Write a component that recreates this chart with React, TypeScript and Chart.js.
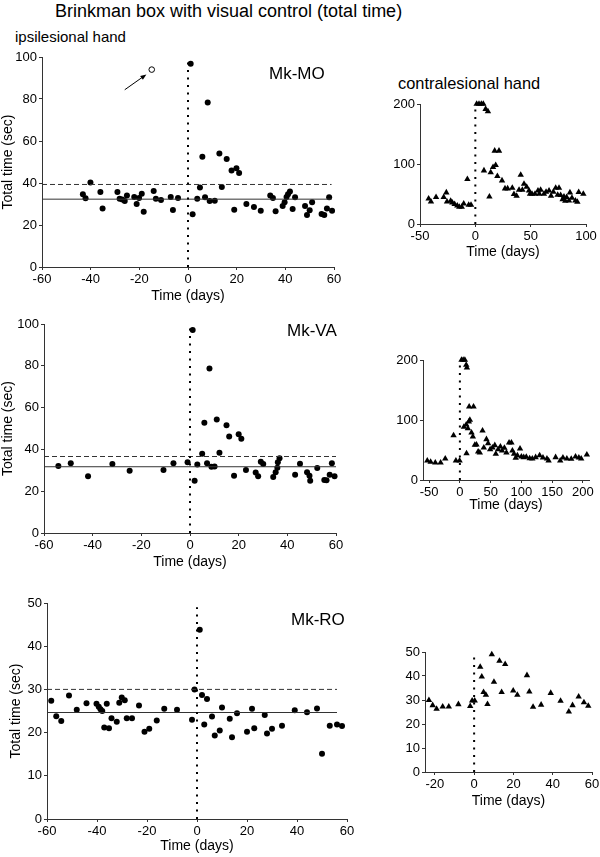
import React, { useEffect, useRef } from "react";
import { Chart, registerables } from "chart.js";

Chart.register(...registerables);

type Pt = [number, number];

const FONT = "'Liberation Sans', Arial, Helvetica, sans-serif";

// ---------- texts ----------
const figureTitle = "Brinkman box with visual control (total time)";
const ipsiLabel = "ipsilesional hand";
const contraLabel = "contralesional hand";
const yTitleText = "Total time (sec)";
const xTitleText = "Time (days)";
const monkeyNames = ["Mk-MO", "Mk-VA", "Mk-RO"];

// ---------- Mk-MO ----------
const moIpsi: Pt[] = [
  [-43.2, 34.6], [-42.1, 32.7], [-40.1, 40.2], [-36.0, 35.7], [-35.1, 27.8], [-29.0, 35.7],
  [-28.1, 32.5], [-27.0, 32.1], [-26.0, 31.4], [-25.1, 34.1], [-22.1, 33.3], [-21.1, 30.0],
  [-20.1, 32.9], [-19.0, 34.9], [-18.2, 26.3], [-14.1, 36.2], [-13.2, 32.5], [-11.1, 31.9],
  [-7.1, 33.3], [-6.2, 27.1], [-4.1, 32.9],
  [1.1, 96.8], [1.9, 25.1], [3.8, 32.5], [4.9, 37.8], [5.9, 52.5], [7.0, 33.2], [8.1, 78.3],
  [8.9, 31.4], [11.0, 31.6], [12.9, 54.0], [13.9, 38.1], [15.9, 51.4], [17.9, 45.9], [19.0, 27.3],
  [19.9, 47.0], [21.0, 44.8], [24.0, 30.0], [27.1, 28.6], [29.9, 26.8], [33.8, 34.0], [34.9, 32.9],
  [36.0, 26.5], [38.9, 29.0], [39.7, 30.8], [40.5, 33.3], [41.1, 34.6], [41.9, 35.9], [43.0, 27.6],
  [44.0, 33.2], [48.1, 29.0], [48.9, 24.8], [50.0, 27.0], [51.0, 30.8], [54.9, 25.2], [56.0, 24.8],
  [57.1, 27.8], [58.0, 33.2], [59.2, 26.8],
];
const moIpsiMean: Pt[] = [[-60, 32.3], [59, 32.3]];
const moIpsiUpper: Pt[] = [[-60, 39.3], [59, 39.3]];
const moOpenPoint: Pt[] = [[-14.9, 94]];
const moArrow: Pt[] = [[-26, 84.4], [-17.1, 91.7]];

const moContra: Pt[] = [
  [-42.2, 42.3], [-40.1, 37.3], [-35.5, 44.6], [-28.6, 44.6], [-26.2, 52.4], [-25.6, 37.3],
  [-22.3, 38.4], [-20.8, 35.7], [-18.7, 32.9], [-16.3, 30.6], [-14.5, 28.4], [-12.3, 28.4],
  [-10.5, 34.0], [-7.2, 74.6], [-6.0, 31.8], [-3.9, 31.8],
  [1.2, 200], [3.3, 200], [5.4, 200], [7.2, 200], [9.3, 191.6], [11.4, 187.7], [7.8, 89.1],
  [12.7, 45.7], [13.9, 85.8], [16.0, 94.7], [18.4, 98.1], [17.5, 122.0], [21.4, 122.0],
  [19.9, 79.7], [24.1, 72.4], [26.8, 59.1], [29.2, 59.1], [33.4, 60.2], [34.9, 49.6], [37.3, 46.8],
  [39.5, 56.8], [41.0, 81.9], [42.5, 56.8], [44.0, 66.9], [46.4, 61.8], [48.5, 55.7], [49.4, 50.1],
  [51.2, 50.1], [53.9, 50.1], [56.6, 55.7], [57.8, 50.1], [59.0, 56.8], [62.0, 50.1], [63.9, 53.5],
  [66.6, 55.7], [68.4, 46.8], [70.5, 53.5], [72.6, 60.2], [75.6, 60.2], [74.4, 48.5], [77.1, 47.9],
  [78.9, 41.2], [80.1, 45.7], [81.3, 38.4], [82.5, 44.6], [84.6, 39.0], [85.5, 52.4], [87.3, 43.5],
  [90.4, 39.0], [92.2, 36.8], [93.4, 52.9], [97.6, 50.1],
];

// ---------- Mk-VA ----------
const vaIpsi: Pt[] = [
  [-54.1, 32.0], [-49.0, 33.4], [-41.9, 27.2], [-31.9, 33.0], [-24.8, 29.8], [-10.9, 30.1],
  [-6.8, 33.4], [-1.0, 33.8],
  [1.1, 97.1], [1.9, 25.0], [3.0, 32.8], [5.0, 37.9], [5.9, 52.7], [7.0, 33.4], [8.0, 78.7],
  [8.8, 31.7], [10.1, 31.8], [11.0, 54.3], [12.1, 38.4], [15.0, 51.6], [16.1, 46.2], [18.1, 27.4],
  [20.0, 47.3], [21.1, 45.1], [23.0, 30.1], [27.0, 29.0], [28.0, 27.1], [29.1, 34.1], [30.1, 33.0],
  [34.2, 26.8], [35.2, 29.1], [35.9, 31.2], [36.1, 33.8], [36.8, 35.8], [43.2, 27.9], [45.2, 33.1],
  [48.1, 29.1], [49.1, 27.4], [49.4, 25.0], [52.3, 31.1], [55.2, 25.3], [56.1, 25.2], [57.4, 27.9],
  [58.3, 33.4], [59.4, 27.1],
];
const vaIpsiMean: Pt[] = [[-60, 31.7], [60, 31.7]];
const vaIpsiUpper: Pt[] = [[-60, 36.6], [60, 36.6]];

const vaContra: Pt[] = [
  [-53, 32.2], [-47.6, 30], [-40, 28.9], [-31.4, 28.9], [-23.8, 35.6], [-10.3, 74.4], [-6.5, 32.2],
  [-0.5, 32.2], [2.7, 200], [5.4, 200], [8.1, 200], [10.3, 191.7], [11.4, 187.2], [6.5, 88.3],
  [10.3, 92.2], [13, 86.1], [10.8, 44.4], [14.6, 97.2], [16.2, 100], [15.1, 122.2], [22.2, 122.2],
  [18.9, 78.9], [21.1, 72.2], [24.3, 58.3], [27, 58.9], [29.7, 47.2], [32.4, 45.6], [36.8, 82.2],
  [38.9, 53.9], [43.2, 67.8], [45.9, 61.1], [49.2, 51.1], [53, 53.9], [56.8, 57.8], [58.4, 43.3],
  [62.2, 51.1], [65.9, 55.6], [68.6, 48.9], [72.4, 53.3], [75.7, 45.6], [80, 62.2], [83.8, 62.2],
  [85.4, 48.9], [88.1, 43.3], [90.8, 36.7], [93.5, 41.1], [97.8, 52.2], [100, 38.9], [103.8, 37.8],
  [108, 38.3], [113.5, 36.1], [117.8, 35.6], [123.2, 37.8], [129.7, 41.1], [135.1, 37.2],
  [141.6, 35.6], [144.3, 32.2], [155.7, 37.8], [163.2, 32.2], [167.6, 37.2], [174, 35.6],
  [181.1, 35], [188.1, 38.9], [193.5, 37.2], [197.3, 35.6], [206.5, 42.2],
];

// ---------- Mk-RO ----------
const roIpsi: Pt[] = [
  [-58.3, 27.4], [-56.3, 23.8], [-54.3, 22.7], [-51.2, 28.6], [-48.1, 25.3], [-44.2, 26.8],
  [-40.2, 26.7], [-39.3, 26.0], [-38.6, 25.4], [-37.9, 25.0], [-37.1, 21.2], [-36.1, 26.7],
  [-35.2, 21.0], [-34.2, 23.3], [-32.1, 22.5], [-31.1, 26.9], [-30.1, 28.1], [-28.9, 27.5],
  [-28.1, 23.3], [-26.0, 23.3], [-23.2, 26.3], [-21.0, 20.2], [-19.1, 20.9], [-16.1, 22.8],
  [-13.1, 25.5], [-8.0, 25.3], [-2.0, 23.0], [-1.0, 30.0],
  [1.1, 43.8], [2.0, 28.7], [2.9, 21.9], [4.0, 27.8], [6.0, 23.7], [7.1, 19.3], [9.1, 20.5],
  [10.0, 25.8], [13.1, 23.2], [14.0, 18.9], [16.0, 24.5], [20.0, 20.2], [22.0, 25.5], [22.9, 21.0],
  [27.1, 24.1], [28.0, 19.8], [30.0, 20.9], [34.0, 21.6], [39.1, 25.2], [44.0, 24.7], [48.0, 25.6],
  [50.0, 15.1], [53.1, 21.6], [56.0, 21.9], [58.0, 21.5],
];
const roIpsiMean: Pt[] = [[-60, 24.65], [56, 24.65]];
const roIpsiUpper: Pt[] = [[-60, 30.0], [56, 30.0]];

const roContra: Pt[] = [
  [-23, 29.9], [-21.1, 27.8], [-19.1, 26.3], [-16, 27.2], [-12.9, 27.2], [-8, 28.2], [-2, 27.4],
  [-1, 29.7], [0.3, 29.7], [3.1, 43.8], [3.9, 39.7], [4.8, 33.3], [6, 32.1], [6.8, 28.3], [9, 49],
  [10.1, 37.5], [12.9, 46.3], [14, 33.3], [15.8, 44.9], [19.9, 33.9], [22, 32.1], [26.9, 40.3],
  [28.1, 33.5], [30, 27.1], [34.1, 28], [39, 32.9], [44, 29.6], [48.2, 25.1], [50.1, 27.8],
  [53.2, 31.4], [55.9, 29], [58.1, 27.5],
];

// ---------- onset lines (day 0) ----------
const onset100: Pt[] = [[0, 0], [0, 100]];
const onset200: Pt[] = [[0, 0], [0, 200]];
const onset50: Pt[] = [[0, 0], [0, 49]];

// ---------- ticks ----------
const ticksDays60 = [-60, -40, -20, 0, 20, 40, 60];
const ticksDaysMO = [-50, 0, 50, 100];
const ticksDaysVA = [-50, 0, 50, 100, 150, 200];
const ticksDaysRO = [-20, 0, 20, 40, 60];
const ticksTime100 = [0, 20, 40, 60, 80, 100];
const ticksTime200 = [0, 100, 200];
const ticksTime50 = [0, 10, 20, 30, 40, 50];

interface PanelCfg {
  box: { left: number; top: number; width: number; height: number };
  pad: { left: number; top: number; right: number; bottom: number };
  yWidth: number;
  xHeight: number;
  xMin: number; xMax: number; xTicks: number[];
  yMin: number; yMax: number; yTicks: number[];
  showYTitle: boolean;
  points: Pt[];
  marker: "circle" | "triangle";
  radius: number;
  mean?: Pt[];
  upper?: Pt[];
  onset: Pt[];
  openPoints?: Pt[];
  arrow?: Pt[];
}

const arrowPlugin = {
  id: "arrowAnno",
  afterDatasetsDraw(chart: any, _args: any, opts: any) {
    const pts: Pt[] | undefined = opts && opts.points;
    if (!pts || pts.length < 2) return;
    const xs = chart.scales.x, ys = chart.scales.y;
    const x0 = xs.getPixelForValue(pts[0][0]), y0 = ys.getPixelForValue(pts[0][1]);
    const x1 = xs.getPixelForValue(pts[1][0]), y1 = ys.getPixelForValue(pts[1][1]);
    const a = Math.atan2(y1 - y0, x1 - x0);
    const ctx = chart.ctx;
    ctx.save();
    ctx.strokeStyle = "#000";
    ctx.fillStyle = "#000";
    ctx.lineWidth = 1;
    ctx.beginPath();
    ctx.moveTo(x0, y0);
    ctx.lineTo(x1 - 4 * Math.cos(a), y1 - 4 * Math.sin(a));
    ctx.stroke();
    const L = 6, W = 2.4;
    ctx.beginPath();
    ctx.moveTo(x1, y1);
    ctx.lineTo(x1 - L * Math.cos(a) + W * Math.sin(a), y1 - L * Math.sin(a) - W * Math.cos(a));
    ctx.lineTo(x1 - L * Math.cos(a) - W * Math.sin(a), y1 - L * Math.sin(a) + W * Math.cos(a));
    ctx.closePath();
    ctx.fill();
    ctx.restore();
  },
};

const xy = (a: Pt[]) => a.map(([x, y]) => ({ x, y }));

function Panel({ cfg }: { cfg: PanelCfg }) {
  const ref = useRef<HTMLCanvasElement>(null);
  useEffect(() => {
    const canvas = ref.current;
    if (!canvas) return;
    const datasets: any[] = [];
    datasets.push({
      type: "line", data: xy(cfg.onset), borderColor: "#000", borderWidth: 2,
      borderDash: [2, 5.5], pointRadius: 0, fill: false, tension: 0, clip: false,
    });
    if (cfg.mean) datasets.push({
      type: "line", data: xy(cfg.mean), borderColor: "#333", borderWidth: 1,
      pointRadius: 0, fill: false, tension: 0, clip: false,
    });
    if (cfg.upper) datasets.push({
      type: "line", data: xy(cfg.upper), borderColor: "#333", borderWidth: 1,
      borderDash: [5, 3], pointRadius: 0, fill: false, tension: 0, clip: false,
    });
    datasets.push({
      type: "scatter", data: xy(cfg.points), pointStyle: cfg.marker, pointRadius: cfg.radius,
      backgroundColor: "#000", borderColor: "#000", borderWidth: 0, clip: false,
    });
    if (cfg.openPoints) datasets.push({
      type: "scatter", data: xy(cfg.openPoints), pointStyle: "circle", pointRadius: 2.8,
      backgroundColor: "#fff", borderColor: "#000", borderWidth: 1, clip: false,
    });

    const zeroPad = (s: any) => {
      s.paddingLeft = 0; s.paddingRight = 0; s.paddingTop = 0; s.paddingBottom = 0;
    };
    const tickFont = { family: FONT, size: 13 };
    const titleFont = { family: FONT, size: 14 };

    const chart = new Chart(canvas, {
      type: "scatter",
      data: { datasets },
      options: {
        responsive: false,
        animation: false,
        events: [],
        layout: { padding: cfg.pad },
        plugins: {
          legend: { display: false },
          tooltip: { enabled: false },
          // @ts-ignore
          arrowAnno: { points: cfg.arrow },
        },
        scales: {
          x: {
            type: "linear", min: cfg.xMin, max: cfg.xMax,
            afterBuildTicks: (s: any) => { s.ticks = cfg.xTicks.map((v) => ({ value: v })); },
            afterFit: (s: any) => { s.height = cfg.xHeight; zeroPad(s); },
            grid: { display: true, drawOnChartArea: false, drawTicks: true, tickLength: 3, color: "#333", lineWidth: 1 },
            border: { display: true, color: "#333", width: 1 },
            ticks: { color: "#000", font: tickFont, padding: 2, maxRotation: 0, autoSkip: false },
            title: { display: true, text: xTitleText, color: "#000", font: titleFont, padding: 0 },
          },
          y: {
            type: "linear", min: cfg.yMin, max: cfg.yMax,
            afterBuildTicks: (s: any) => { s.ticks = cfg.yTicks.map((v) => ({ value: v })); },
            afterFit: (s: any) => { s.width = cfg.yWidth; zeroPad(s); },
            grid: { display: true, drawOnChartArea: false, drawTicks: true, tickLength: 3, color: "#333", lineWidth: 1 },
            border: { display: true, color: "#333", width: 1 },
            ticks: { color: "#000", font: tickFont, padding: 2, autoSkip: false },
            title: { display: cfg.showYTitle, text: yTitleText, color: "#000", font: titleFont, padding: 0 },
          },
        },
      } as any,
      plugins: [arrowPlugin as any],
    });
    return () => chart.destroy();
  }, [cfg]);
  const b = cfg.box;
  return (
    <canvas
      ref={ref}
      width={b.width}
      height={b.height}
      style={{ position: "absolute", left: b.left, top: b.top, width: b.width, height: b.height }}
    />
  );
}

const panels: PanelCfg[] = [
  {
    box: { left: 0, top: 47, width: 348, height: 260 }, pad: { left: 0, top: 10, right: 14, bottom: 2 },
    yWidth: 42, xHeight: 38, xMin: -60, xMax: 60, xTicks: ticksDays60, yMin: 0, yMax: 100, yTicks: ticksTime100,
    showYTitle: true, points: moIpsi, marker: "circle", radius: 3, mean: moIpsiMean, upper: moIpsiUpper,
    onset: onset100, openPoints: moOpenPoint, arrow: moArrow,
  },
  {
    box: { left: 385, top: 94, width: 215, height: 169 }, pad: { left: 0, top: 10, right: 14, bottom: 2 },
    yWidth: 35, xHeight: 37, xMin: -50, xMax: 100, xTicks: ticksDaysMO, yMin: 0, yMax: 200, yTicks: ticksTime200,
    showYTitle: false, points: moContra, marker: "triangle", radius: 3.7, onset: onset200,
  },
  {
    box: { left: 0, top: 314, width: 350, height: 259 }, pad: { left: 0, top: 10, right: 14, bottom: 2 },
    yWidth: 44, xHeight: 38, xMin: -60, xMax: 60, xTicks: ticksDays60, yMin: 0, yMax: 100, yTicks: ticksTime100,
    showYTitle: true, points: vaIpsi, marker: "circle", radius: 3, mean: vaIpsiMean, upper: vaIpsiUpper,
    onset: onset100,
  },
  {
    box: { left: 388, top: 350, width: 212, height: 166 }, pad: { left: 0, top: 10, right: 11, bottom: 2 },
    yWidth: 35, xHeight: 34, xMin: -60, xMax: 210, xTicks: ticksDaysVA, yMin: 0, yMax: 200, yTicks: ticksTime200,
    showYTitle: false, points: vaContra, marker: "triangle", radius: 3.7, onset: onset200,
  },
  {
    box: { left: 8, top: 593, width: 353, height: 264 }, pad: { left: 0, top: 10, right: 14, bottom: 2 },
    yWidth: 39, xHeight: 36, xMin: -60, xMax: 60, xTicks: ticksDays60, yMin: 0, yMax: 50, yTicks: ticksTime50,
    showYTitle: true, points: roIpsi, marker: "circle", radius: 3, mean: roIpsiMean, upper: roIpsiUpper,
    onset: onset50,
  },
  {
    box: { left: 392, top: 642, width: 208, height: 170 }, pad: { left: 0, top: 10, right: 8, bottom: 2 },
    yWidth: 33, xHeight: 38, xMin: -25, xMax: 60, xTicks: ticksDaysRO, yMin: 0, yMax: 50, yTicks: ticksTime50,
    showYTitle: false, points: roContra, marker: "triangle", radius: 3.7, onset: onset50,
  },
];

const textBase: React.CSSProperties = {
  position: "absolute", fontFamily: FONT, color: "#000", lineHeight: 1, whiteSpace: "nowrap",
};

export default function App() {
  return (
    <div style={{ position: "absolute", left: 0, top: 0, width: 600, height: 857, overflow: "hidden", background: "#fff" }}>
      {panels.map((p, i) => <Panel key={i} cfg={p} />)}
      <div style={{ ...textBase, left: 55, top: 2, fontSize: 18 }}>{figureTitle}</div>
      <div style={{ ...textBase, left: 15, top: 29, fontSize: 15 }}>{ipsiLabel}</div>
      <div style={{ ...textBase, left: 398, top: 75, fontSize: 16.4 }}>{contraLabel}</div>
      <div style={{ ...textBase, left: 269, top: 65, fontSize: 17 }}>{monkeyNames[0]}</div>
      <div style={{ ...textBase, left: 287, top: 322, fontSize: 17 }}>{monkeyNames[1]}</div>
      <div style={{ ...textBase, left: 291, top: 611, fontSize: 17 }}>{monkeyNames[2]}</div>
    </div>
  );
}
